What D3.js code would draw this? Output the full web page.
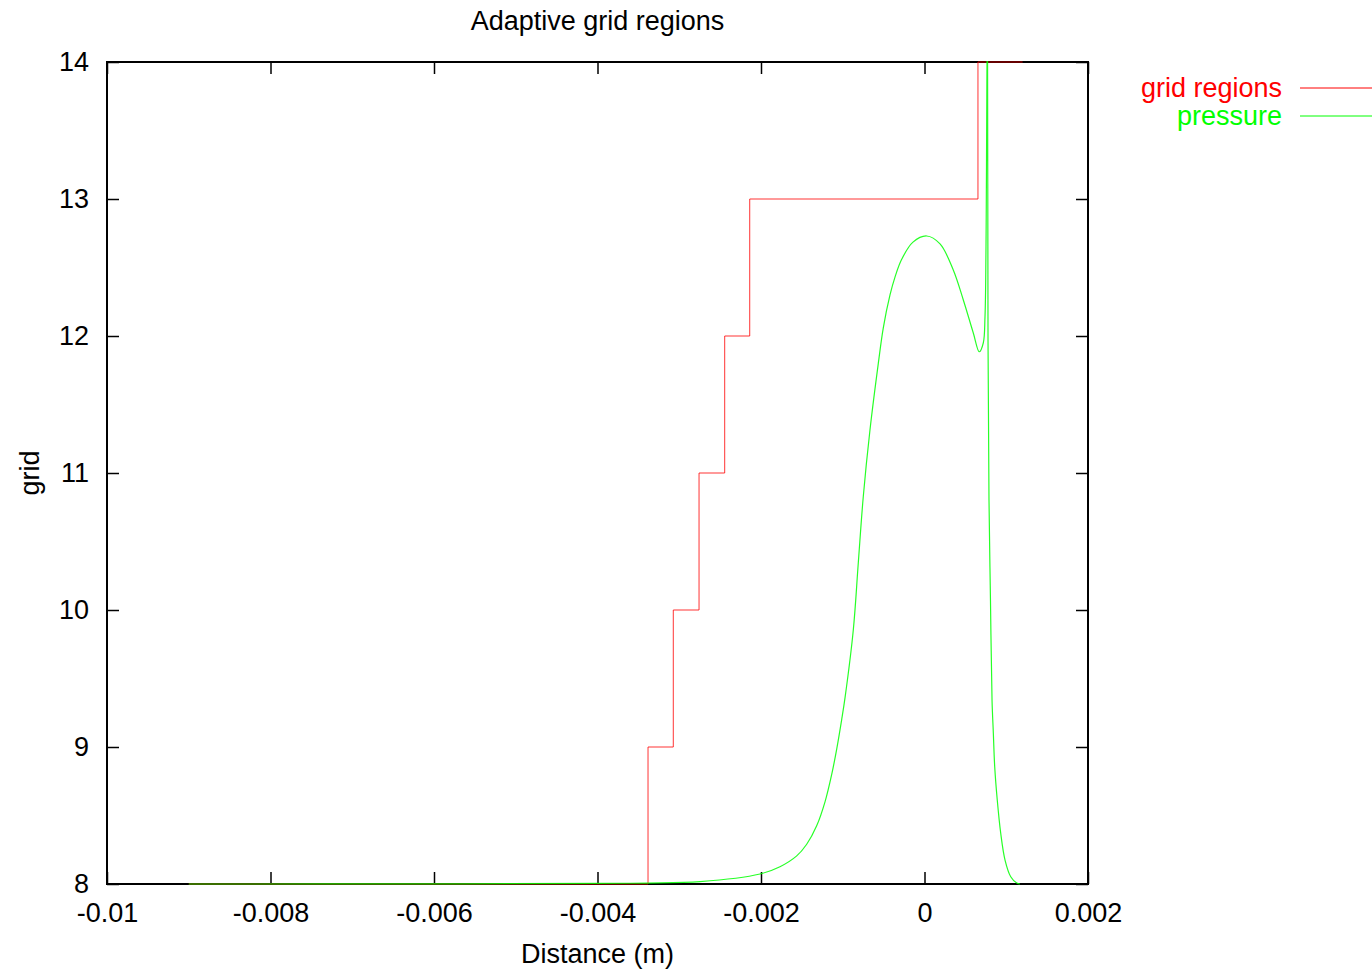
<!DOCTYPE html>
<html>
<head>
<meta charset="utf-8">
<script src="https://cdn.jsdelivr.net/npm/d3@7"></script>
<style>
    body { margin: 0; background: #fff; }
    svg text { font-family: "Liberation Sans", Arial, Helvetica, sans-serif; }
</style>
</head>
<body>
<svg id="chart" width="1372" height="972"></svg>
<script>
// grid regions (step levels), x in metres
var gridX = [-0.009, -0.003382, -0.003073, -0.002758, -0.002444, -0.002138, 0.000654, 0.0012];
var gridY = [8, 9, 10, 11, 12, 13, 14, 14];

// pressure, scaled onto the grid axis
var pressX = [-0.009, -0.006, -0.004, -0.0034, -0.002746, -0.002012, -0.001768, -0.001563, -0.001441,
    -0.001319, -0.001217, -0.001135, -0.001074, -0.001013, -0.000972, -0.000871, -0.00081, -0.000749,
    -0.000667, -0.000565, -0.000504, -0.000422, -0.000361, -0.000279, -0.000141, 0.000027, 0.00019, 0.000352,
    0.000475, 0.000597, 0.00067, 0.000719, 0.00074, 0.000752, 0.00077, 0.000777, 0.000789, 0.000807,
    0.000826, 0.000842, 0.000859, 0.00089, 0.000932, 0.000985, 0.001055, 0.001128, 0.001168];
var pressY = [8.0, 8.001, 8.004, 8.007, 8.017, 8.073, 8.126, 8.205, 8.29,
    8.425, 8.6, 8.8, 8.985, 9.2, 9.36, 9.854, 10.343, 10.827,
    11.314, 11.8, 12.06, 12.3, 12.43, 12.56, 12.685, 12.73, 12.672, 12.482,
    12.263, 12.022, 11.885, 11.949, 12.141, 12.628, 14.5, 11.971, 10.803, 10.073,
    9.343, 9.102, 8.854, 8.613, 8.372, 8.175, 8.053, 8.007, 8.0];

var xTicks = [-0.01, -0.008, -0.006, -0.004, -0.002, 0, 0.002];
var yTicks = [8, 9, 10, 11, 12, 13, 14];

var margin = {left: 107, top: 62, right: 1088, bottom: 884};
var fontSize = 27;

var svg = d3.select('#chart');

var x = d3.scaleLinear().domain([-0.01, 0.002]).range([margin.left, margin.right]);
var y = d3.scaleLinear().domain([8, 14]).range([margin.bottom, margin.top]);

// clip a pixel wider so lines lying on the border stay visible
svg.append('defs').append('clipPath').attr('id', 'plot-clip')
    .append('rect')
    .attr('x', margin.left).attr('y', margin.top - 1)
    .attr('width', margin.right - margin.left).attr('height', margin.bottom - margin.top + 2);

function zip(xs, ys) {
    return xs.map(function(v, i) { return [v, ys[i]]; });
}

// axes: gnuplot style, ticks inward on all four sides
var tickLen = 12;
var axes = [
    {axis: d3.axisBottom(x), pos: 'translate(0,' + margin.bottom + ')', labels: true},
    {axis: d3.axisTop(x), pos: 'translate(0,' + margin.top + ')', labels: false},
    {axis: d3.axisLeft(y), pos: 'translate(' + margin.left + ',0)', labels: true},
    {axis: d3.axisRight(y), pos: 'translate(' + margin.right + ',0)', labels: false}
];

axes.forEach(function(a, i) {
    var ticks = i < 2 ? xTicks : yTicks;
    a.axis.tickValues(ticks)
        .tickSizeInner(-tickLen)
        .tickSizeOuter(0)
        .tickPadding(tickLen + (i < 2 ? 7 : 6))
        .tickFormat(a.labels ? function(d) { return String(d); } : '');
    var g = svg.append('g').attr('transform', a.pos).call(a.axis);
    g.select('.domain').remove();
    g.selectAll('.tick line').attr('stroke', '#000').attr('stroke-width', 1.5);
    g.selectAll('.tick text')
        .attr('fill', '#000')
        .style('font-size', fontSize + 'px');
});

svg.append('rect')
    .attr('x', margin.left).attr('y', margin.top)
    .attr('width', margin.right - margin.left).attr('height', margin.bottom - margin.top)
    .attr('fill', 'none')
    .attr('stroke', '#000')
    .attr('stroke-width', 2);

var plot = svg.append('g').attr('clip-path', 'url(#plot-clip)');

var stepLine = d3.line()
    .x(function(d) { return x(d[0]); })
    .y(function(d) { return y(d[1]); })
    .curve(d3.curveStepAfter);

var smoothLine = d3.line()
    .x(function(d) { return x(d[0]); })
    .y(function(d) { return y(d[1]); })
    .curve(d3.curveCatmullRom.alpha(0.5));

plot.append('path')
    .attr('d', stepLine(zip(gridX, gridY)))
    .attr('fill', 'none')
    .attr('stroke', '#ff0000')
    .attr('stroke-opacity', 0.8)
    .attr('stroke-width', 1);

plot.append('path')
    .attr('d', smoothLine(zip(pressX, pressY)))
    .attr('fill', 'none')
    .attr('stroke', '#00ff00')
    .attr('stroke-opacity', 0.85)
    .attr('stroke-width', 1.2);

svg.append('text')
    .attr('x', (margin.left + margin.right) / 2).attr('y', 30)
    .attr('text-anchor', 'middle')
    .style('font-size', fontSize + 'px')
    .text('Adaptive grid regions');

svg.append('text')
    .attr('x', (margin.left + margin.right) / 2).attr('y', 963)
    .attr('text-anchor', 'middle')
    .style('font-size', fontSize + 'px')
    .text('Distance (m)');

svg.append('text')
    .attr('transform', 'translate(39,' + (margin.top + margin.bottom) / 2 + ') rotate(-90)')
    .attr('text-anchor', 'middle')
    .style('font-size', fontSize + 'px')
    .text('grid');

// legend
var legend = [
    {name: 'grid regions', color: '#ff0000', y: 88},
    {name: 'pressure', color: '#00ff00', y: 116}
];

legend.forEach(function(l) {
    svg.append('text')
        .attr('x', 1282).attr('y', l.y + 9)
        .attr('text-anchor', 'end')
        .attr('fill', l.color)
        .style('font-size', fontSize + 'px')
        .text(l.name);
    svg.append('line')
        .attr('x1', 1300).attr('x2', 1372)
        .attr('y1', l.y).attr('y2', l.y)
        .attr('stroke', l.color)
        .attr('stroke-width', 1);
});
</script>
</body>
</html>
